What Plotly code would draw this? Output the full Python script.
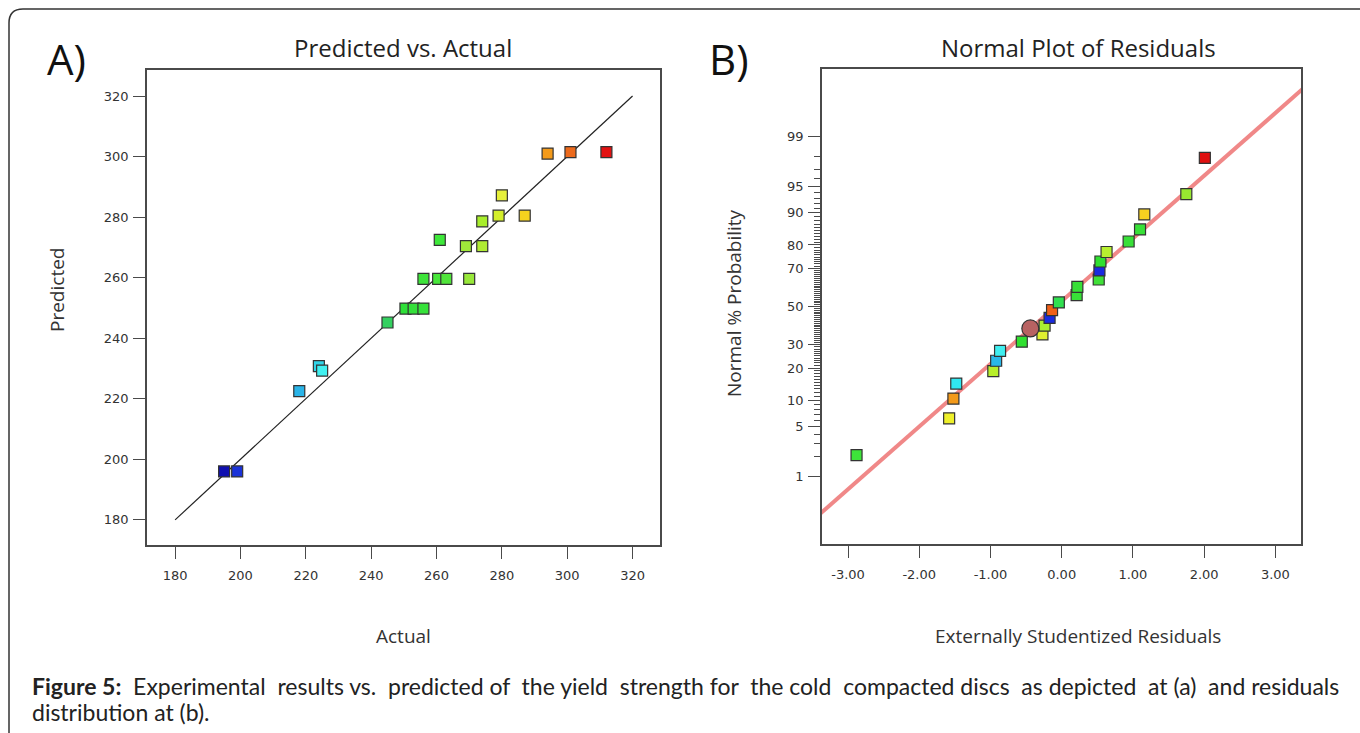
import plotly.graph_objects as go
from statistics import NormalDist

# ---------------- data ----------------
# Panel A: Predicted vs. Actual
actual = [294, 301, 312, 280, 279, 287, 274, 261, 269, 274, 256, 260.5, 263, 270,
          250.5, 253, 256, 245, 224, 225, 218, 195, 199]
predicted = [301.0, 301.5, 301.5, 287.2, 280.5, 280.5, 278.6, 272.5, 270.4, 270.4,
             259.6, 259.6, 259.6, 259.6, 249.8, 249.8, 249.8, 245.2, 230.8, 229.3,
             222.5, 196.0, 196.0]
colors_a = ["#f39a1a", "#ec6a1c", "#e21212", "#e6f03a", "#d4ee2a", "#f5d21e", "#a8ee2c",
            "#3ee83a", "#a0e83a", "#b0ec34", "#3ee43a", "#48e63a", "#50e43a", "#98e83a",
            "#2ee038", "#34e03a", "#36e23a", "#34d060", "#30d4e8", "#40f0f0", "#2ab4e8",
            "#1010b0", "#1a32d8"]
ideal_line = [180, 320]
ticks_a = [180, 200, 220, 240, 260, 280, 300, 320]

# Panel B: Normal plot of residuals
residuals = [-2.88, -1.58, -1.52, -1.48, -0.96, -0.92, -0.865, -0.56, -0.27, -0.24,
             -0.17, -0.135, -0.04, 0.21, 0.22, 0.52, 0.53, 0.544, 0.63, 0.94, 1.10,
             1.16, 1.75, 2.01]
probability = [2.1, 6.3, 10.4, 14.6, 18.8, 22.9, 27.2, 31.5, 35.1, 39.7, 43.8, 48.0,
               52.2, 56.2, 60.6, 64.4, 68.9, 73.1, 77.2, 81.3, 85.4, 89.6, 93.8, 97.9]
colors_b = ["#3ee43a", "#eef02a", "#f39a1a", "#30e8f0", "#b8ef2a", "#2ab8e8", "#40eef0",
            "#30e030", "#e0f030", "#a8ee30", "#1a2ae0", "#f06018", "#30e050", "#38e038",
            "#38e038", "#40e038", "#1a2ae0", "#30e030", "#b8f030", "#38e038", "#38e038",
            "#f5d020", "#98e830", "#e01010"]
highlight_resid = [-0.44]
highlight_prob = [38.2]
fit_intercept_z = 0.073
fit_slope_z = 0.858
fit_resid = [-3.5, 3.5]
prob_major = [1, 5, 10, 20, 30, 50, 70, 80, 90, 95, 99]
prob_minor = [p for p in range(2, 99) if p not in prob_major]
ticks_b = [-3, -2, -1, 0, 1, 2, 3]
ticks_b_text = ["-3.00", "-2.00", "-1.00", "0.00", "1.00", "2.00", "3.00"]

caption_line1_words = ["Experimental", "results", "vs.", "predicted", "of", "the", "yield",
                       "strength", "for", "the", "cold", "compacted", "discs", "as",
                       "depicted", "at", "(a)", "and", "residuals"]
caption_line2 = "distribution at (b)."

# ---------------- helpers ----------------
W, H = 1360, 733
nd = NormalDist()
def z(p):
    return nd.inv_cdf(p / 100.0)
def fx(x):
    return x / W
def fy(y):
    return 1 - y / H

TICKFONT = dict(family="DejaVu Sans", size=13, color="#333333")
FRAME = "#4a4a4a"

fig = go.Figure()

# Panel A
fig.add_trace(go.Scatter(x=ideal_line, y=ideal_line, mode="lines",
                         line=dict(color="#222222", width=1.2),
                         xaxis="x", yaxis="y", hoverinfo="skip"))
fig.add_trace(go.Scatter(x=actual, y=predicted, mode="markers",
                         marker=dict(symbol="square", size=11, color=colors_a,
                                     line=dict(color="#333333", width=1.2)),
                         xaxis="x", yaxis="y"))

# Panel B
fig.add_trace(go.Scatter(x=fit_resid,
                         y=[fit_intercept_z + fit_slope_z * r for r in fit_resid],
                         mode="lines", line=dict(color="#f08888", width=4),
                         xaxis="x2", yaxis="y2", hoverinfo="skip"))
fig.add_trace(go.Scatter(x=residuals, y=[z(p) for p in probability], mode="markers",
                         marker=dict(symbol="square", size=11, color=colors_b,
                                     line=dict(color="#333333", width=1.2)),
                         xaxis="x2", yaxis="y2"))
fig.add_trace(go.Scatter(x=highlight_resid, y=[z(p) for p in highlight_prob],
                         mode="markers",
                         marker=dict(symbol="circle", size=17, color="#b86262",
                                     line=dict(color="#333333", width=1.2)),
                         xaxis="x2", yaxis="y2"))

axis_common = dict(showline=True, mirror=True, linecolor=FRAME, linewidth=1.6,
                   ticks="outside", ticklen=12, tickwidth=1.3, tickcolor=FRAME,
                   showgrid=False, zeroline=False, tickfont=TICKFONT)

fig.update_layout(
    width=W, height=H, margin=dict(l=0, r=0, t=0, b=0),
    paper_bgcolor="white", plot_bgcolor="white", showlegend=False,
    xaxis=dict(domain=[fx(147), fx(660)], range=[171.4, 328.4], tickvals=ticks_a,
               anchor="y", ticklabelstandoff=6, **axis_common),
    yaxis=dict(domain=[fy(545), fy(70)], range=[171.7, 328.6], tickvals=ticks_a,
               anchor="x", ticklabelstandoff=2, **axis_common),
    xaxis2=dict(domain=[fx(822), fx(1301)], range=[-3.365, 3.36], tickvals=ticks_b,
                ticktext=ticks_b_text, anchor="y2", ticklabelstandoff=6, **axis_common),
    yaxis2=dict(domain=[fy(543.7), fy(69.3)], range=[-3.245, 3.245],
                tickvals=[z(p) for p in prob_major],
                ticktext=[str(p) for p in prob_major], anchor="x2",
                ticklabelstandoff=2,
                minor=dict(tickmode="array", tickvals=[z(p) for p in prob_minor],
                           ticks="outside", ticklen=6, tickwidth=1, tickcolor=FRAME),
                **axis_common),
)

TITLEFONT = dict(family="Open Sans", size=24, color="#222222")
LABFONT = dict(family="Open Sans", size=19, color="#333333")
BIGFONT = dict(family="Open Sans", size=42, color="#111111")
ann = [
    dict(text="A)", x=fx(66), y=fy(58), font=BIGFONT),
    dict(text="B)", x=fx(729), y=fy(58), font=BIGFONT),
    dict(text="Predicted vs. Actual", x=fx(403), y=fy(48), font=TITLEFONT),
    dict(text="Normal Plot of Residuals", x=fx(1078), y=fy(48), font=TITLEFONT),
    dict(text="Actual", x=fx(403), y=fy(636), font=LABFONT),
    dict(text="Externally Studentized Residuals", x=fx(1078), y=fy(636), font=LABFONT),
    dict(text="Predicted", x=fx(57), y=fy(290), font=LABFONT, textangle=-90),
    dict(text="Normal % Probability", x=fx(734), y=fy(303), font=LABFONT, textangle=-90),
]
for a in ann:
    fig.add_annotation(xref="paper", yref="paper", showarrow=False,
                       xanchor="center", yanchor="middle", **a)

# justified-looking first caption line: widen every other word gap
gaps = []
for i in range(len(caption_line1_words) - 1):
    gaps.append("\u00a0 " if i % 2 == 0 else " ")
line1 = "<b>Figure 5:</b>\u00a0 " + "".join(
    w + g for w, g in zip(caption_line1_words, gaps + [""]))

CAPFONT = dict(family="Lato", size=23, color="#222222")
fig.add_annotation(xref="paper", yref="paper", showarrow=False, xanchor="left",
                   yanchor="middle", x=fx(30), y=fy(686), font=CAPFONT, text=line1)
fig.add_annotation(xref="paper", yref="paper", showarrow=False, xanchor="left",
                   yanchor="middle", x=fx(30), y=fy(712), font=CAPFONT,
                   text=caption_line2)

# rounded outer frame (extends past right and bottom edges)
r = 14
fig.add_shape(type="path", xref="paper", yref="paper",
              path=(f"M {fx(9)},{fy(760)} L {fx(9)},{fy(9 + r)} "
                    f"Q {fx(9)},{fy(9)} {fx(9 + r)},{fy(9)} L {fx(1380)},{fy(9)}"),
              line=dict(color="#333333", width=1.5))

fig.write_html("out.html")
